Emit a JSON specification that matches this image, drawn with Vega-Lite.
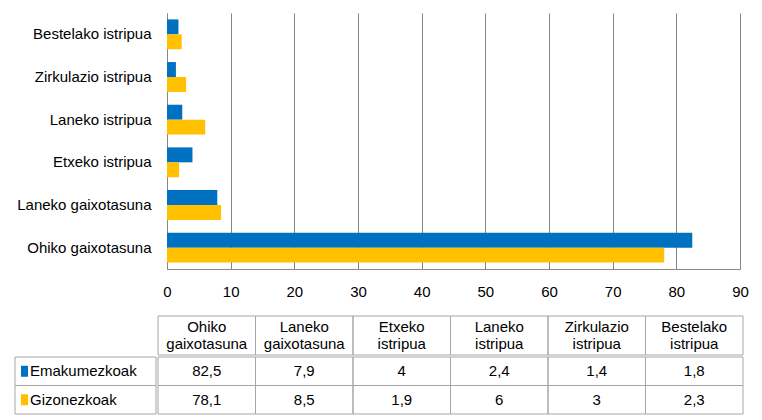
{
  "$schema": "https://vega.github.io/schema/vega-lite/v6.json",
  "padding": {"left": 14, "top": 13, "right": 5, "bottom": 5},
  "config": {
    "view": {"stroke": null},
    "font": "Liberation Sans",
    "locale": {"number": {"decimal": ",", "thousands": ".", "grouping": [3], "currency": ["", " €"]}}
  },
  "datasets": {
    "d": [
      {"cause": "Ohiko gaixotasuna", "sex": "Emakumezkoak", "value": 82.5},
      {"cause": "Ohiko gaixotasuna", "sex": "Gizonezkoak", "value": 78.1},
      {"cause": "Laneko gaixotasuna", "sex": "Emakumezkoak", "value": 7.9},
      {"cause": "Laneko gaixotasuna", "sex": "Gizonezkoak", "value": 8.5},
      {"cause": "Etxeko istripua", "sex": "Emakumezkoak", "value": 4},
      {"cause": "Etxeko istripua", "sex": "Gizonezkoak", "value": 1.9},
      {"cause": "Laneko istripua", "sex": "Emakumezkoak", "value": 2.4},
      {"cause": "Laneko istripua", "sex": "Gizonezkoak", "value": 6},
      {"cause": "Zirkulazio istripua", "sex": "Emakumezkoak", "value": 1.4},
      {"cause": "Zirkulazio istripua", "sex": "Gizonezkoak", "value": 3},
      {"cause": "Bestelako istripua", "sex": "Emakumezkoak", "value": 1.8},
      {"cause": "Bestelako istripua", "sex": "Gizonezkoak", "value": 2.3}
    ]
  },
  "spacing": 16,
  "vconcat": [
    {
      "spacing": 0,
      "hconcat": [
        {
          "width": 1, "height": 1,
          "data": {"name": "d"},
          "mark": {"type": "text", "baseline": "top", "fontSize": 1},
          "encoding": {"text": {"value": ""}}
        },
        {
          "width": 573, "height": 256,
          "data": {"name": "d"},
          "mark": {"type": "bar"},
          "encoding": {
            "y": {
              "field": "cause", "type": "nominal",
              "sort": ["Bestelako istripua", "Zirkulazio istripua", "Laneko istripua", "Etxeko istripua", "Laneko gaixotasuna", "Ohiko gaixotasuna"],
              "scale": {"paddingInner": 0.3, "paddingOuter": 0.15},
              "axis": {"title": null, "ticks": false, "domainColor": "#868686", "labelFontSize": 15, "labelColor": "#000", "labelPadding": 16, "labelLimit": 300}
            },
            "yOffset": {"field": "sex", "type": "nominal", "sort": ["Emakumezkoak", "Gizonezkoak"]},
            "x": {
              "field": "value", "type": "quantitative",
              "scale": {"domain": [0, 90]},
              "axis": {"title": null, "values": [0, 10, 20, 30, 40, 50, 60, 70, 80, 90], "grid": true, "gridColor": "#868686", "domainColor": "#868686", "ticks": false, "labelFontSize": 15, "labelColor": "#000", "labelPadding": 15, "labelFlush": false}
            },
            "color": {
              "field": "sex", "type": "nominal",
              "scale": {"domain": ["Emakumezkoak", "Gizonezkoak"], "range": ["#0070C0", "#FFC000"]},
              "legend": null
            }
          }
        }
      ]
    },
    {
      "columns": 2,
      "spacing": 0,
      "concat": [
        {
          "width": 141, "height": 39,
          "data": {"name": "d"},
          "mark": {"type": "text", "baseline": "top", "fontSize": 1},
          "encoding": {"text": {"value": ""}}
        },
        {
          "width": 585, "height": 39,
          "data": {"name": "d"},
          "transform": [{"filter": "datum.sex == 'Emakumezkoak'"}],
          "encoding": {
            "x": {
              "field": "cause", "type": "nominal",
              "sort": ["Ohiko gaixotasuna", "Laneko gaixotasuna", "Etxeko istripua", "Laneko istripua", "Zirkulazio istripua", "Bestelako istripua"],
              "scale": {"paddingInner": 0, "paddingOuter": 0},
              "axis": null
            }
          },
          "layer": [
            {
              "mark": {"type": "rect", "filled": false, "color": "#A6A6A6", "strokeWidth": 1},
              "encoding": {"y": {"datum": "h", "type": "nominal", "scale": {"paddingInner": 0, "paddingOuter": 0}, "axis": null}}
            },
            {
              "mark": {"type": "text", "lineBreak": " ", "lineHeight": 17, "fontSize": 15, "color": "#000", "dy": -8.5},
              "encoding": {"text": {"field": "cause"}}
            }
          ]
        },
        {
          "width": 141, "height": 57,
          "data": {"name": "d"},
          "transform": [{"filter": "datum.cause == 'Ohiko gaixotasuna'"}],
          "encoding": {
            "y": {"field": "sex", "type": "nominal", "sort": ["Emakumezkoak", "Gizonezkoak"], "scale": {"paddingInner": 0, "paddingOuter": 0}, "axis": null}
          },
          "layer": [
            {
              "mark": {"type": "rect", "filled": false, "color": "#A6A6A6", "strokeWidth": 1},
              "encoding": {"x": {"datum": "l", "type": "nominal", "scale": {"paddingInner": 0, "paddingOuter": 0}, "axis": null}}
            },
            {
              "mark": {"type": "point", "shape": "M-0.64,-1H0.64V1H-0.64Z", "filled": true, "size": 121, "opacity": 1},
              "encoding": {
                "x": {"datum": "l", "type": "nominal", "bandPosition": 0},
                "xOffset": {"value": 9.5},
                "color": {"field": "sex", "type": "nominal", "scale": {"domain": ["Emakumezkoak", "Gizonezkoak"], "range": ["#0070C0", "#FFC000"]}, "legend": null}
              }
            },
            {
              "mark": {"type": "text", "align": "left", "dx": 15, "fontSize": 15, "color": "#000"},
              "encoding": {
                "x": {"datum": "l", "type": "nominal", "bandPosition": 0},
                "text": {"field": "sex"}
              }
            }
          ]
        },
        {
          "width": 585, "height": 57,
          "data": {"name": "d"},
          "encoding": {
            "x": {
              "field": "cause", "type": "nominal",
              "sort": ["Ohiko gaixotasuna", "Laneko gaixotasuna", "Etxeko istripua", "Laneko istripua", "Zirkulazio istripua", "Bestelako istripua"],
              "scale": {"paddingInner": 0, "paddingOuter": 0},
              "axis": null
            },
            "y": {"field": "sex", "type": "nominal", "sort": ["Emakumezkoak", "Gizonezkoak"], "scale": {"paddingInner": 0, "paddingOuter": 0}, "axis": null}
          },
          "layer": [
            {"mark": {"type": "rect", "filled": false, "color": "#A6A6A6", "strokeWidth": 1}},
            {
              "mark": {"type": "text", "fontSize": 15, "color": "#000"},
              "encoding": {"text": {"field": "value", "type": "quantitative", "format": "~g"}}
            }
          ]
        }
      ]
    }
  ]
}
